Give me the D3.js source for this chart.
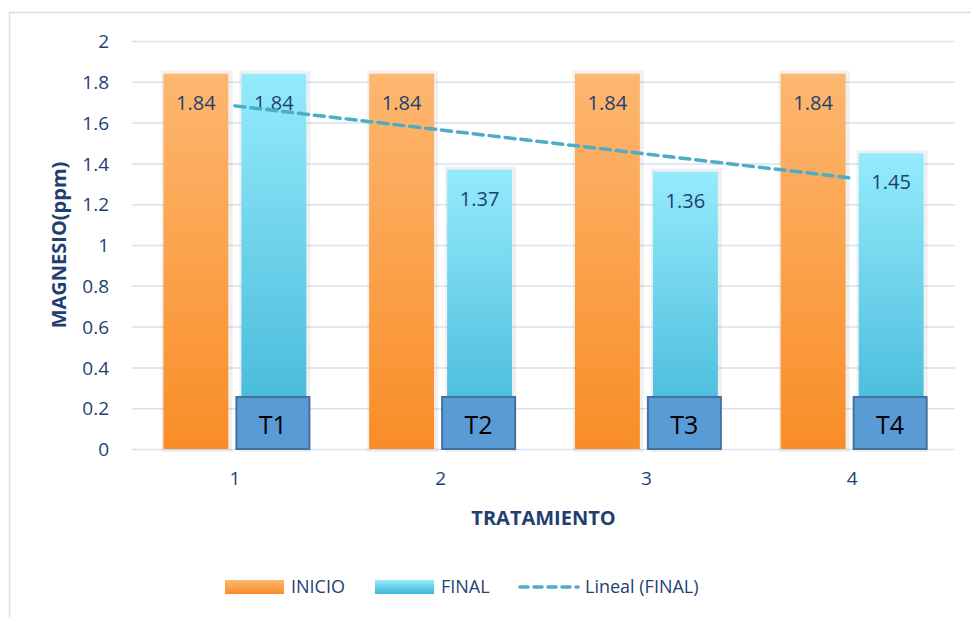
<!DOCTYPE html>
<html>
<head>
<meta charset="utf-8">
<script src="https://cdn.jsdelivr.net/npm/d3@7/dist/d3.min.js"></script>
<style>
  html, body { margin: 0; padding: 0; background: #fff; }
  svg { display: block; font-family: "Open Sans", "Noto Sans", sans-serif; }
</style>
</head>
<body>
<svg id="chart" width="971" height="617"></svg>
<script>
// Treatments and magnesium readings (ppm)
const categories = ["1", "2", "3", "4"];
const inicio = [1.84, 1.84, 1.84, 1.84];
const final = [1.84, 1.37, 1.36, 1.45];
const boxLabels = ["T1", "T2", "T3", "T4"];
const yTicks = [0, 0.2, 0.4, 0.6, 0.8, 1, 1.2, 1.4, 1.6, 1.8, 2];
const seriesNames = ["INICIO", "FINAL", "Lineal (FINAL)"];

const svg = d3.select("#chart");
const textColor = "#1F3F73";
const gridColor = "#D9E2F1";
const font = "'Open Sans', 'Noto Sans', sans-serif";

// outer chart frame
svg.append("rect")
  .attr("x", 9.5).attr("y", 12.5).attr("width", 980).attr("height", 640)
  .attr("fill", "none").attr("stroke", "#D5DFEF").attr("stroke-width", 1.5);

const plot = { left: 132, right: 955, top: 41, bottom: 449 };

const x = d3.scaleBand().domain(categories).range([plot.left, plot.right]).padding(0);
const y = d3.scaleLinear().domain([0, 2]).range([plot.bottom, plot.top]);
const barW = 65, gap = 13;
const pairW = barW * 2 + gap;
const pairOffset = (x.bandwidth() - pairW) / 2;
const inner = d3.scaleBand().domain(["INICIO", "FINAL"])
  .range([pairOffset, pairOffset + pairW])
  .paddingInner(gap / (barW + gap)).paddingOuter(0);

// gradients and a soft bar shadow
const defs = svg.append("defs");
function grad(id, top, bottom) {
  const g = defs.append("linearGradient").attr("id", id)
    .attr("x1", 0).attr("y1", 0).attr("x2", 0).attr("y2", 1);
  g.append("stop").attr("offset", "0%").attr("stop-color", top);
  g.append("stop").attr("offset", "100%").attr("stop-color", bottom);
}
grad("gInicio", "#FDB770", "#F98D27");
grad("gFinal", "#95EBFC", "#3FB5D7");
const f = defs.append("filter").attr("id", "shadow")
  .attr("x", "-20%").attr("y", "-5%").attr("width", "140%").attr("height", "110%");
f.append("feMorphology").attr("in", "SourceAlpha").attr("operator", "dilate").attr("radius", 3).attr("result", "d");
f.append("feOffset").attr("in", "d").attr("dx", 1).attr("dy", 0).attr("result", "o");
f.append("feFlood").attr("flood-color", "#000").attr("flood-opacity", 0.06);
f.append("feComposite").attr("in2", "o").attr("operator", "in").attr("result", "s");
const fm = f.append("feMerge");
fm.append("feMergeNode").attr("in", "s");
fm.append("feMergeNode").attr("in", "SourceGraphic");

// gridlines
svg.append("g").selectAll("line").data(yTicks).join("line")
  .attr("x1", plot.left).attr("x2", plot.right)
  .attr("y1", d => y(d) + 0.5).attr("y2", d => y(d) + 0.5)
  .attr("stroke", gridColor).attr("stroke-width", 1.5);

// y axis labels
const yAxis = d3.axisLeft(y).tickValues(yTicks).tickSize(0).tickPadding(0).tickFormat(d3.format("~g"));
const yG = svg.append("g").attr("transform", `translate(${plot.left - 23},0)`).call(yAxis);
yG.select(".domain").remove();
yG.selectAll("text").attr("fill", textColor).attr("font-size", 19).attr("dy", "0.35em")
  .style("font-family", font);

// x axis labels
const xAxis = d3.axisBottom(x).tickSize(0).tickPadding(0);
const xG = svg.append("g").attr("transform", `translate(0,${plot.bottom + 22})`).call(xAxis);
xG.select(".domain").remove();
xG.selectAll("text").attr("fill", textColor).attr("font-size", 19).attr("dy", "0.71em")
  .style("font-family", font);

// bars with value labels
const series = [
  { key: "INICIO", values: inicio, fill: "url(#gInicio)" },
  { key: "FINAL", values: final, fill: "url(#gFinal)" }
];
series.forEach(s => {
  const g = svg.append("g");
  g.selectAll("rect").data(s.values).join("rect")
    .attr("x", (d, i) => x(categories[i]) + inner(s.key))
    .attr("width", barW)
    .attr("y", d => y(d))
    .attr("height", d => y(0) - y(d))
    .attr("fill", s.fill)
    .attr("filter", "url(#shadow)");
  g.selectAll("text").data(s.values).join("text")
    .attr("x", (d, i) => x(categories[i]) + inner(s.key) + barW / 2)
    .attr("y", d => y(d) + 29)
    .attr("dy", "0.35em")
    .attr("text-anchor", "middle")
    .attr("fill", textColor)
    .attr("font-size", 20)
    .text(d => d3.format(".2f")(d));
});

// linear trend of FINAL
const xs = categories.map((c, i) => i + 1);
const mx = d3.mean(xs), my = d3.mean(final);
const slope = d3.sum(xs, (v, i) => (v - mx) * (final[i] - my)) / d3.sum(xs, v => (v - mx) ** 2);
const intercept = my - slope * mx;
const trend = [xs[0], xs[xs.length - 1]].map(v => ({ cx: v, cy: intercept + slope * v }));
const cxPos = v => x(categories[v - 1]) + x.bandwidth() / 2;
svg.append("path")
  .attr("d", d3.line().x(d => cxPos(d.cx)).y(d => y(d.cy))(trend))
  .attr("fill", "none").attr("stroke", "#4BADC8").attr("stroke-width", 3.5)
  .attr("stroke-dasharray", "10 6").attr("stroke-linecap", "round");

// treatment tags at the foot of each FINAL bar
const tags = svg.append("g");
tags.selectAll("rect").data(boxLabels).join("rect")
  .attr("x", (d, i) => x(categories[i]) + inner("FINAL") - 5)
  .attr("y", y(0.255))
  .attr("width", 73).attr("height", y(0) - y(0.255))
  .attr("fill", "#5B9BD5").attr("stroke", "#41719C").attr("stroke-width", 2);
tags.selectAll("text").data(boxLabels).join("text")
  .attr("x", (d, i) => x(categories[i]) + inner("FINAL") - 5 + 36.5)
  .attr("y", (y(0) + y(0.255)) / 2 + 2)
  .attr("dy", "0.35em").attr("text-anchor", "middle")
  .attr("fill", "#000").attr("font-size", 25)
  .text(d => d);

// axis titles
svg.append("text")
  .attr("transform", `translate(66,${(plot.top + plot.bottom) / 2}) rotate(-90)`)
  .attr("text-anchor", "middle").attr("fill", textColor)
  .attr("font-size", 20).attr("font-weight", "bold")
  .text("MAGNESIO(ppm)");
svg.append("text")
  .attr("x", (plot.left + plot.right) / 2).attr("y", 518)
  .attr("dy", "0.35em")
  .attr("text-anchor", "middle").attr("fill", textColor)
  .attr("font-size", 20).attr("font-weight", "bold")
  .text("TRATAMIENTO");

// legend
const legend = svg.append("g").attr("transform", "translate(0,587)");
legend.append("rect").attr("x", 225).attr("y", -7).attr("width", 59).attr("height", 14).attr("fill", "url(#gInicio)");
legend.append("text").attr("x", 291).attr("dy", "0.35em").attr("fill", textColor).attr("font-size", 18).text(seriesNames[0]);
legend.append("rect").attr("x", 375).attr("y", -7).attr("width", 59).attr("height", 14).attr("fill", "url(#gFinal)");
legend.append("text").attr("x", 441).attr("dy", "0.35em").attr("fill", textColor).attr("font-size", 18).text(seriesNames[1]);
legend.append("line").attr("x1", 520).attr("x2", 578).attr("y1", 0).attr("y2", 0)
  .attr("stroke", "#4BADC8").attr("stroke-width", 3.5)
  .attr("stroke-dasharray", "8 6").attr("stroke-linecap", "round");
legend.append("text").attr("x", 585).attr("dy", "0.35em").attr("fill", textColor).attr("font-size", 18).text(seriesNames[2]);
</script>
</body>
</html>
